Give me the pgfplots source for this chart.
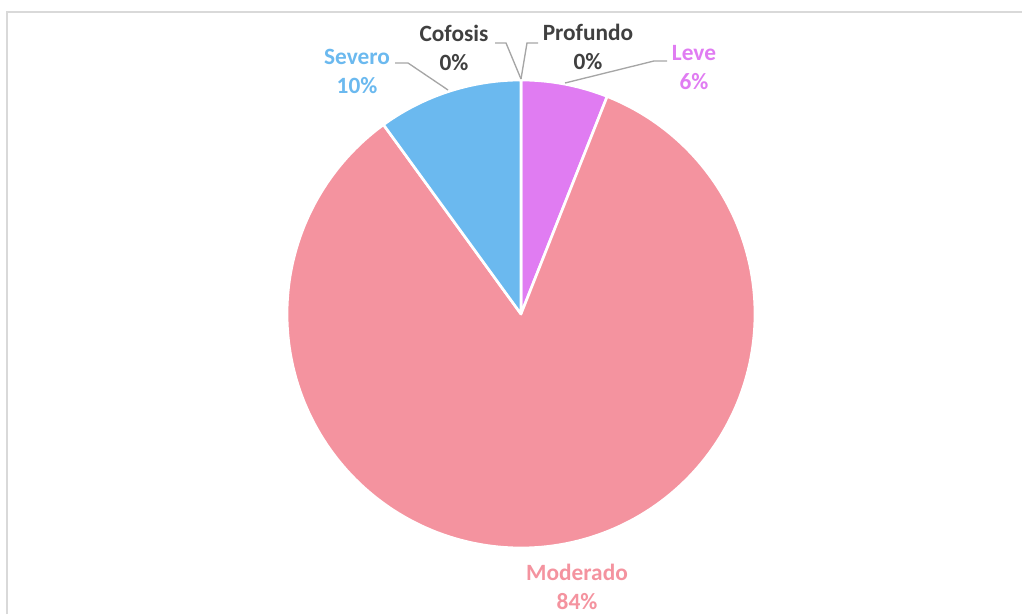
\documentclass[border=0pt]{standalone}
\usepackage{pgfplots}
\pgfplotsset{compat=1.18}
\usepackage{pgfplotstable}
\usepackage{fontspec}
\setmainfont{Carlito}
\definecolor{cLeve}{HTML}{E07CF2}
\definecolor{cModerado}{HTML}{F4939F}
\definecolor{cSevero}{HTML}{6BB9EF}
\definecolor{cDark}{HTML}{404040}
\definecolor{cLeader}{HTML}{A6A6A6}
\definecolor{cFrame}{HTML}{D9D9D9}
\tikzset{lbl/.style={font=\bfseries\fontsize{17.5}{21.7}\selectfont, align=center, inner sep=0pt}}
\pgfplotstableread{
name value
Leve 6
Moderado 84
Severo 10
Cofosis 0
Profundo 0
}\piedata
\begin{document}
\begin{tikzpicture}
\pgfplotstablegetelem{0}{value}\of\piedata \edef\vA{\pgfplotsretval}
\pgfplotstablegetelem{1}{value}\of\piedata \edef\vB{\pgfplotsretval}
\pgfplotstablegetelem{2}{value}\of\piedata \edef\vC{\pgfplotsretval}
\pgfmathsetmacro\aA{90}
\pgfmathsetmacro\aB{\aA-3.6*\vA}
\pgfmathsetmacro\aC{\aB-3.6*\vB}
\pgfmathsetmacro\aD{\aC-3.6*\vC}
\begin{axis}[
  scale only axis, width=766.5pt, height=460.5pt,
  xmin=0, xmax=1022, ymin=0, ymax=614,
  hide axis, clip=false,
]
% frame
\addplot[draw=cFrame, line width=1.1pt, no markers] coordinates {(7,0) (7,602) (1022,602)};
% slices
\addplot[fill=cLeve, draw=white, line width=2pt, line join=round, domain=\aB:\aA, samples=25, variable=\t, no markers]
  ({521+234*cos(\t)},{300+234*sin(\t)}) -- (axis cs:521,300) -- cycle;
\addplot[fill=cModerado, draw=white, line width=2pt, line join=round, domain=\aC:\aB, samples=200, variable=\t, no markers]
  ({521+234*cos(\t)},{300+234*sin(\t)}) -- (axis cs:521,300) -- cycle;
\addplot[fill=cSevero, draw=white, line width=2pt, line join=round, domain=\aD:\aC, samples=30, variable=\t, no markers]
  ({521+234*cos(\t)},{300+234*sin(\t)}) -- (axis cs:521,300) -- cycle;
% leader lines
\addplot[draw=cLeader, line width=1pt, no markers] coordinates {(395,551) (408,551) (448,524)};
\addplot[draw=cLeader, line width=1pt, no markers] coordinates {(495,571) (506,571) (521,535)};
\addplot[draw=cLeader, line width=1pt, no markers] coordinates {(538,571) (527,571) (521,535)};
\addplot[draw=cLeader, line width=1pt, no markers] coordinates {(667,553) (654,553) (565,531)};
% labels
\node[lbl, text=cSevero] at (axis cs:357,542.5) {Severo\\10\%};
\node[lbl, text=cDark] at (axis cs:454,566) {Cofosis\\0\%};
\node[lbl, text=cDark] at (axis cs:588,567.5) {Profundo\\0\%};
\node[lbl, text=cLeve] at (axis cs:694,546.5) {Leve\\6\%};
\node[lbl, text=cModerado] at (axis cs:577,27.5) {Moderado\\84\%};
\end{axis}
\pgfresetboundingbox
\useasboundingbox (current axis.south west) rectangle (current axis.north east);
\end{tikzpicture}
\end{document}
